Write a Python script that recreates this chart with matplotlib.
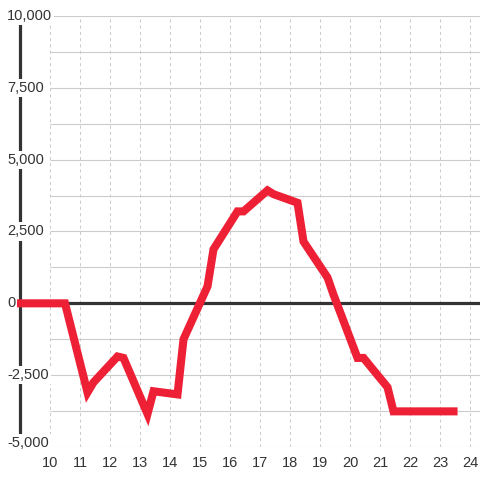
import matplotlib
matplotlib.use("Agg")
import matplotlib.pyplot as plt

# hour of day and running balance
hours = [9.0, 10.5, 11.25, 11.45, 12.25, 12.45, 13.25, 13.45, 14.25, 14.45,
         15.25, 15.45, 16.25, 16.45, 17.25, 17.45, 18.25, 18.45, 19.25, 19.45,
         20.25, 20.45, 21.25, 21.45, 23.45]
values = [0, 0, -3100, -2750, -1850, -1900, -3850, -3060, -3170, -1250,
          590, 1880, 3200, 3200, 3930, 3800, 3500, 2150, 900, 300,
          -1900, -1900, -2920, -3760, -3760]

x_ticks = list(range(10, 25))
y_ticks = [-5000, -2500, 0, 2500, 5000, 7500, 10000]
y_grid = [-5000, -3750, -2500, -1250, 1250, 2500, 3750, 5000, 6250, 7500, 8750, 10000]

RED = '#ee2036'
DARK = '#333333'
GRID = '#cccccc'

plt.rcParams['font.family'] = ['Liberation Sans', 'DejaVu Sans']

fig = plt.figure(figsize=(4.8, 4.8), dpi=100)
ax = fig.add_axes([20 / 480, 33 / 480, 460 / 480, 431 / 480])
ax.set_xlim(9.0, 24.333)
ax.set_ylim(-5000, 10000)
for s in ax.spines.values():
    s.set_visible(False)
ax.set_xticks([])
ax.set_yticks([])

# grid
ax.hlines(y_grid, 10, 24.333, color=GRID, lw=0.8, zorder=1)
ax.vlines(x_ticks, -5000, 10000, color=GRID, lw=0.75, linestyles=(0, (3, 3)), zorder=1)

# axis lines
ax.axhline(0, color=DARK, lw=2.3, zorder=2)
ax.axvline(9.0, color=DARK, lw=2.3, zorder=2, clip_on=False)

ax.plot(hours, values, color=RED, lw=5.8, solid_capstyle='projecting',
        solid_joinstyle='miter', zorder=3, clip_on=False)

# tick labels
for v in y_ticks:
    shift = 4 if v == y_ticks[0] else 0
    ax.annotate(f'{v:,}', (-13 / 460, v), xycoords=ax.get_yaxis_transform(),
                xytext=(0, shift), textcoords='offset pixels',
                ha='left', va='center', fontsize=10.5, color=DARK, zorder=4,
                bbox=dict(facecolor='white', edgecolor='none', pad=1.5))
for h in x_ticks:
    ax.annotate(str(h), (h, -5000), xytext=(0, -16), textcoords='offset pixels',
                ha='center', va='center', fontsize=10.5, color=DARK,
                annotation_clip=False)

fig.savefig('out.png', dpi=100)
